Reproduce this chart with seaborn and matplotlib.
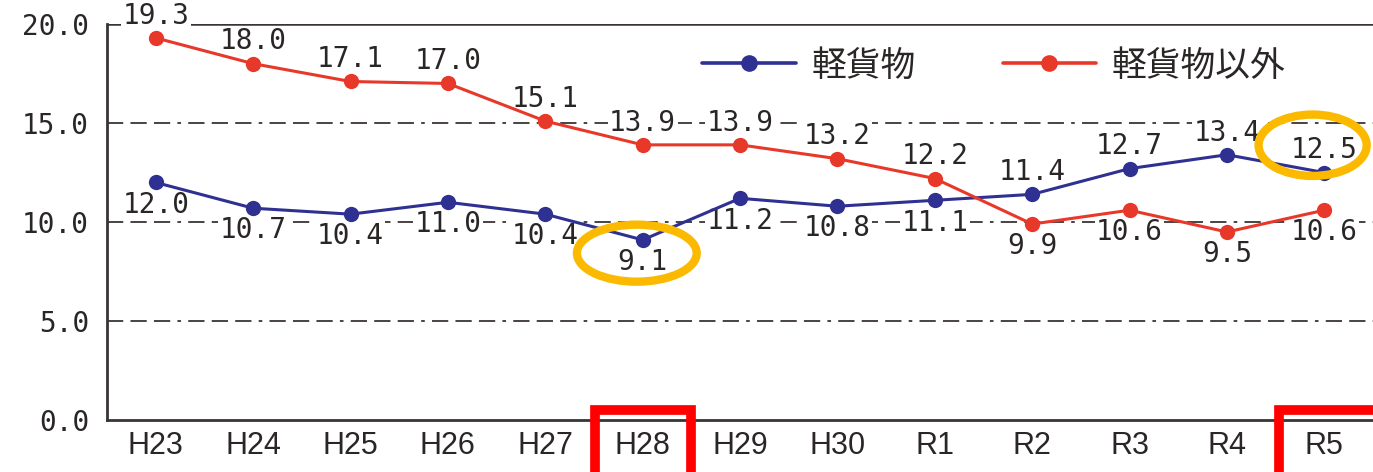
import pandas as pd
import seaborn as sns
import matplotlib.pyplot as plt
from matplotlib.patches import Ellipse, Rectangle

years = ['H23', 'H24', 'H25', 'H26', 'H27', 'H28', 'H29', 'H30', 'R1', 'R2', 'R3', 'R4', 'R5']
light = [12.0, 10.7, 10.4, 11.0, 10.4, 9.1, 11.2, 10.8, 11.1, 11.4, 12.7, 13.4, 12.5]
other = [19.3, 18.0, 17.1, 17.0, 15.1, 13.9, 13.9, 13.2, 12.2, 9.9, 10.6, 9.5, 10.6]
# label above (+1) or below (-1) the point
light_side = [-1, -1, -1, -1, -1, -1, -1, -1, -1, 1, 1, 1, 1]
other_side = [1, 1, 1, 1, 1, 1, 1, 1, 1, -1, -1, -1, -1]
names = ['軽貨物', '軽貨物以外']
colors = ['#2e3192', '#e8382a']
txt = '#2a2626'

sns.set_style('white')
plt.rcParams['font.family'] = ['Noto Sans CJK JP', 'DejaVu Sans']

df = pd.DataFrame({
    'year': years * 2,
    'value': light + other,
    'kind': [names[0]] * len(years) + [names[1]] * len(years),
})

fig = plt.figure(figsize=(13.73, 4.72), dpi=100)
ax = fig.add_axes([0.078, 0.11, 0.922, 0.839])

sns.lineplot(data=df, x='year', y='value', hue='kind', palette=colors,
             marker='o', markersize=11, markeredgewidth=0, linewidth=2.2,
             sort=False, ax=ax, zorder=3)

ax.set_xlim(-0.5, len(years) - 0.5)
ax.set_ylim(0, 20)
ax.set_yticks([0, 5, 10, 15, 20])
ax.set_yticklabels([f'{v:.1f}' for v in [0, 5, 10, 15, 20]],
                   family='DejaVu Sans Mono', fontsize=20, color=txt)
ax.set_xticks(range(len(years)))
ax.set_xticklabels(years, family='Liberation Sans', fontsize=22, color=txt)
ax.tick_params(axis='y', length=0, pad=13)
ax.tick_params(axis='x', length=0, pad=8)
ax.set_xlabel('')
ax.set_ylabel('')

for y in [5, 10, 15]:
    ax.axhline(y, color='#3a3434', lw=1.3, dashes=(9, 4, 9, 4, 9, 4, 2, 4), zorder=0)
ax.axhline(20, color='#3a3434', lw=1.8, zorder=0)

sns.despine(ax=ax, top=True, right=True)
for s in ['left', 'bottom']:
    ax.spines[s].set_color('#3a3434')
    ax.spines[s].set_linewidth(2)

for vals, side in [(light, light_side), (other, other_side)]:
    for i, (v, sd) in enumerate(zip(vals, side)):
        ax.annotate(f'{v:.1f}', (i, v), xytext=(0, 16 * sd), textcoords='offset points',
                    ha='center', va='center', family='DejaVu Sans Mono',
                    fontsize=20, color=txt, zorder=2,
                    bbox=dict(boxstyle='square,pad=0.05', fc='white', ec='none'))

leg = ax.legend(loc='center right', bbox_to_anchor=(0.931, 0.894), ncol=2, frameon=False,
                fontsize=25, handlelength=2.7, columnspacing=2.5, handletextpad=0.45,
                borderaxespad=0, borderpad=0)
for h in leg.legend_handles:
    h.set_linewidth(2.6)
    h.set_markersize(12)
for t in leg.get_texts():
    t.set_color(txt)

# highlight marks
ax.add_patch(Ellipse((4.94, light[5] - 0.67), 1.23, 2.88, fill=False, ec='#fbb900', lw=6,
                     clip_on=False, zorder=4))
ax.add_patch(Ellipse((11.88, light[12] + 1.38), 1.11, 3.1, fill=False, ec='#fbb900', lw=6,
                     clip_on=False, zorder=4))
ax.add_patch(Rectangle((5 - 0.49, -3.5), 0.99, 4.0, fill=False, ec='#ff0000', lw=7,
                       clip_on=False, zorder=4))
ax.add_patch(Rectangle((12 - 0.47, -3.5), 1.2, 4.0, fill=False, ec='#ff0000', lw=7,
                       clip_on=False, zorder=4))

fig.savefig('out.png', dpi=100)
